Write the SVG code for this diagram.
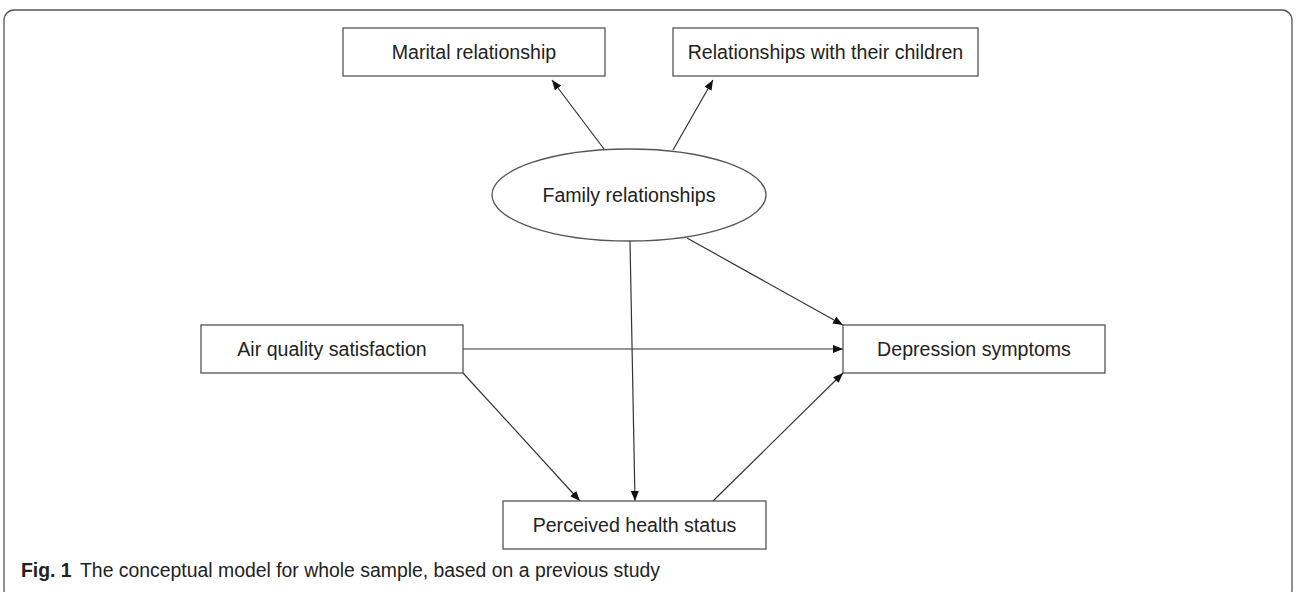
<svg xmlns="http://www.w3.org/2000/svg" width="1296" height="592" viewBox="0 0 1296 592">
<style>
.box{fill:#fff;stroke:#555;stroke-width:1.3}
.lbl{font-family:"Liberation Sans",Arial,sans-serif;font-size:19.6px;fill:#222;text-anchor:middle}
.edge{stroke:#333;stroke-width:1.2;fill:none;marker-end:url(#ah)}
.cap{font-family:"Liberation Sans",Arial,sans-serif;font-size:19.4px;fill:#222}
</style>
<defs>
<marker id="ah" markerUnits="userSpaceOnUse" markerWidth="10" markerHeight="8" refX="10" refY="4" orient="auto">
<path d="M0,0 L10,4 L0,8 z" fill="#111"/>
</marker>
</defs>
<rect x="4" y="10" width="1288" height="590" rx="10" ry="10" fill="#fff" stroke="#555" stroke-width="1.3"/>
<g id="connectors">
<line class="edge" x1="604" y1="149" x2="552" y2="80"/>
<line class="edge" x1="673" y1="150" x2="713" y2="80"/>
<line class="edge" x1="630" y1="241" x2="635" y2="501"/>
<line class="edge" x1="687" y1="238" x2="843" y2="325"/>
<line class="edge" x1="463" y1="349" x2="843" y2="349"/>
<line class="edge" x1="463" y1="373" x2="580" y2="501"/>
<line class="edge" x1="713" y1="501" x2="843" y2="373"/>
</g>
<g id="marital">
<rect class="box" x="343" y="28" width="262" height="48"/>
<text class="lbl" x="474" y="59">Marital relationship</text>
</g>
<g id="children">
<rect class="box" x="673" y="28" width="305" height="48"/>
<text class="lbl" x="825.5" y="59">Relationships with their children</text>
</g>
<g id="family">
<ellipse class="box" cx="629" cy="195" rx="137" ry="46"/>
<text class="lbl" x="629" y="202">Family relationships</text>
</g>
<g id="air">
<rect class="box" x="201" y="325" width="262" height="48"/>
<text class="lbl" x="332" y="356">Air quality satisfaction</text>
</g>
<g id="depression">
<rect class="box" x="843" y="325" width="262" height="48"/>
<text class="lbl" x="974" y="356">Depression symptoms</text>
</g>
<g id="health">
<rect class="box" x="503" y="501" width="263" height="48"/>
<text class="lbl" x="634.5" y="532">Perceived health status</text>
</g>
<g id="caption">
<text class="cap" x="21" y="577"><tspan font-weight="bold">Fig. 1</tspan><tspan x="80">The conceptual model for whole sample, based on a previous study</tspan></text>
</g>
</svg>
